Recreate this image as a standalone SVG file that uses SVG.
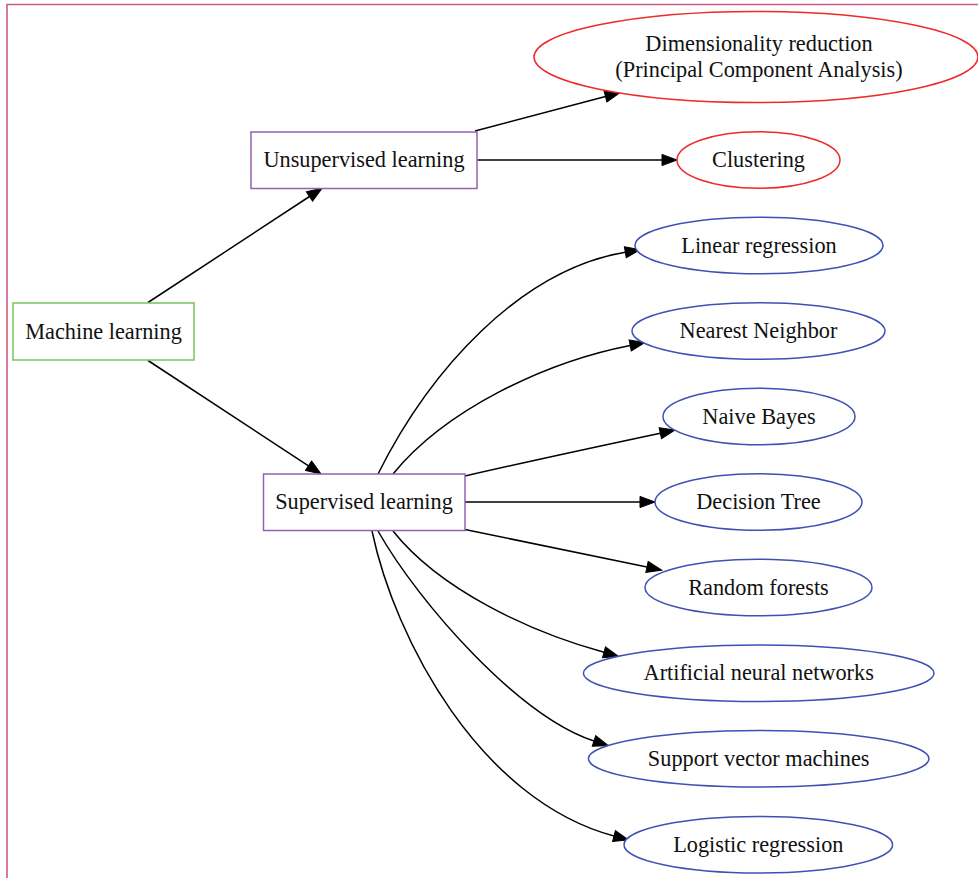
<svg xmlns="http://www.w3.org/2000/svg" width="978" height="878" viewBox="0 0 978 878">
  <defs>
    <style>
      .frame { fill: none; stroke: #cc5b8a; stroke-width: 1.6; }
      .root { fill: #ffffff; stroke: #77c45a; stroke-width: 1.5; }
      .branch { fill: #ffffff; stroke: #9461b0; stroke-width: 1.5; }
      .unsup { fill: #ffffff; stroke: #ee2a2a; stroke-width: 1.5; }
      .sup { fill: #ffffff; stroke: #3f51b5; stroke-width: 1.5; }
      .label { font-family: "Liberation Serif", "Times New Roman", serif; font-size: 22.3px; fill: #111111; text-anchor: middle; }
      .edge { fill: none; stroke: #000000; stroke-width: 1.5; marker-end: url(#arrow); }
    </style>
    <marker id="arrow" markerUnits="userSpaceOnUse" markerWidth="16" markerHeight="12" refX="0" refY="5.6" orient="auto" overflow="visible">
      <path d="M0,0 L15,5.6 L0,11.2 Z" fill="#000000" stroke="#000000" stroke-width="1"/>
    </marker>
  </defs>

  <rect width="978" height="878" fill="#ffffff"/>
  <path class="frame" d="M7,878 V4.5 H978"/>

  <g id="connectors">
    <path class="edge" d="M148,302.5 L309.5,196.5"/>
    <path class="edge" d="M148,360.5 L308.5,465.8"/>
    <path class="edge" d="M475,131 L605.5,96.5"/>
    <path class="edge" d="M477.5,160 L662,160"/>
    <path class="edge" d="M378,474 C430,370 520,270 625.3,252.2"/>
    <path class="edge" d="M393,474 C445,410 545,362 630.2,345.4"/>
    <path class="edge" d="M465,476 C530,461 600,446 660.3,433.2"/>
    <path class="edge" d="M465,502 L640,502"/>
    <path class="edge" d="M465,529.5 C530,543 590,555 647,567"/>
    <path class="edge" d="M393,531 C440,590 530,632 604,652.3"/>
    <path class="edge" d="M378,531 C420,605 520,717 594,741"/>
    <path class="edge" d="M372,531 C395,640 480,800 614,836"/>
  </g>

  <g id="machine-learning">
    <rect class="root" x="13" y="303" width="181" height="57"/>
    <text class="label" x="103.5" y="338.5">Machine learning</text>
  </g>
  <g id="unsupervised-learning">
    <rect class="branch" x="251" y="132" width="226" height="56.5"/>
    <text class="label" x="364" y="167">Unsupervised learning</text>
  </g>
  <g id="supervised-learning">
    <rect class="branch" x="263.5" y="474" width="201.5" height="56.5"/>
    <text class="label" x="364" y="509">Supervised learning</text>
  </g>

  <g id="dimensionality-reduction">
    <ellipse class="unsup" cx="756" cy="57" rx="222" ry="45.5"/>
    <text class="label" x="759" y="50.5">Dimensionality reduction</text>
    <text class="label" x="759" y="77">(Principal Component Analysis)</text>
  </g>
  <g id="clustering">
    <ellipse class="unsup" cx="758.5" cy="160" rx="81.5" ry="28.3"/>
    <text class="label" x="758.5" y="167">Clustering</text>
  </g>

  <g id="linear-regression">
    <ellipse class="sup" cx="759" cy="245.5" rx="124" ry="28.3"/>
    <text class="label" x="759" y="252.5">Linear regression</text>
  </g>
  <g id="nearest-neighbor">
    <ellipse class="sup" cx="758.5" cy="331" rx="126.5" ry="28.3"/>
    <text class="label" x="758.5" y="338">Nearest Neighbor</text>
  </g>
  <g id="naive-bayes">
    <ellipse class="sup" cx="759" cy="416.5" rx="96" ry="28.3"/>
    <text class="label" x="759" y="423.5">Naive Bayes</text>
  </g>
  <g id="decision-tree">
    <ellipse class="sup" cx="758.5" cy="502" rx="103.5" ry="28.3"/>
    <text class="label" x="758.5" y="509">Decision Tree</text>
  </g>
  <g id="random-forests">
    <ellipse class="sup" cx="758.5" cy="587.5" rx="113.5" ry="28.3"/>
    <text class="label" x="758.5" y="594.5">Random forests</text>
  </g>
  <g id="artificial-neural-networks">
    <ellipse class="sup" cx="758.7" cy="673.3" rx="175.3" ry="28.3"/>
    <text class="label" x="758.7" y="680.3">Artificial neural networks</text>
  </g>
  <g id="support-vector-machines">
    <ellipse class="sup" cx="758.7" cy="758.7" rx="170.3" ry="28.3"/>
    <text class="label" x="758.7" y="765.7">Support vector machines</text>
  </g>
  <g id="logistic-regression">
    <ellipse class="sup" cx="758.3" cy="844.7" rx="134.3" ry="28.3"/>
    <text class="label" x="758.3" y="851.7">Logistic regression</text>
  </g>
</svg>
